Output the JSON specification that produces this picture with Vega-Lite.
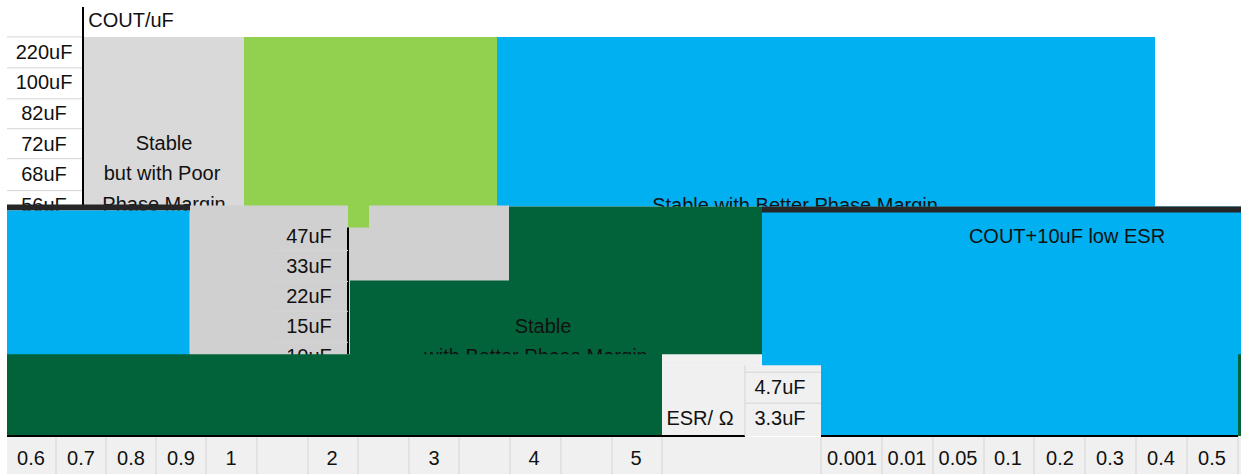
{
  "$schema": "https://vega.github.io/schema/vega-lite/v6.json",
  "width": 1241,
  "height": 475,
  "padding": 0,
  "autosize": {"type": "fit", "contains": "padding"},
  "background": "#ffffff",
  "config": {"view": {"stroke": null}},
  "datasets": {
    "rects": [
      {"b": 1, "k": "poor", "x": 84, "x2": 244, "y": 37, "y2": 207},
      {"b": 1, "k": "lime", "x": 244, "x2": 497, "y": 37, "y2": 207},
      {"b": 1, "k": "blue", "x": 497, "x2": 1155, "y": 37, "y2": 207},
      {"b": 2, "k": "dark", "x": 7, "x2": 190, "y": 205, "y2": 211},
      {"b": 2, "k": "blue", "x": 7, "x2": 190, "y": 211, "y2": 358},
      {"b": 2, "k": "gray", "x": 190, "x2": 509, "y": 206, "y2": 358},
      {"b": 2, "k": "lime", "x": 348, "x2": 369, "y": 205, "y2": 228},
      {"b": 2, "k": "dkgreen", "x": 509, "x2": 762, "y": 207, "y2": 358},
      {"b": 2, "k": "dkgreen", "x": 350, "x2": 509, "y": 281, "y2": 358},
      {"b": 2, "k": "blue", "x": 762, "x2": 1241, "y": 207, "y2": 358},
      {"b": 2, "k": "dark", "x": 762, "x2": 1241, "y": 207, "y2": 213},
      {"b": 3, "k": "dkgreen", "x": 7, "x2": 662, "y": 355, "y2": 437},
      {"b": 3, "k": "blue", "x": 762, "x2": 1238, "y": 355, "y2": 437},
      {"b": 3, "k": "dkgreen", "x": 1238, "x2": 1241, "y": 355, "y2": 437},
      {"b": 3, "k": "cell", "x": 662, "x2": 762, "y": 355, "y2": 366},
      {"b": 3, "k": "cell", "x": 662, "x2": 821, "y": 366, "y2": 437},
      {"b": 3, "k": "cell", "x": 7, "x2": 1241, "y": 438, "y2": 475}
    ],
    "rules": [
      {"b": 1, "k": "line", "x": 83, "x2": 83, "y": 7, "y2": 207},
      {"b": 1, "k": "grid", "x": 7, "x2": 82, "y": 37, "y2": 37},
      {"b": 1, "k": "grid", "x": 7, "x2": 82, "y": 68, "y2": 68},
      {"b": 1, "k": "grid", "x": 7, "x2": 82, "y": 99, "y2": 99},
      {"b": 1, "k": "grid", "x": 7, "x2": 82, "y": 129, "y2": 129},
      {"b": 1, "k": "grid", "x": 7, "x2": 82, "y": 159, "y2": 159},
      {"b": 1, "k": "grid", "x": 7, "x2": 82, "y": 191, "y2": 191},
      {"b": 2, "k": "line", "x": 348, "x2": 348, "y": 228, "y2": 355},
      {"b": 2, "k": "grid", "x": 273, "x2": 348, "y": 251, "y2": 251},
      {"b": 2, "k": "grid", "x": 273, "x2": 348, "y": 282, "y2": 282},
      {"b": 2, "k": "grid", "x": 273, "x2": 348, "y": 312, "y2": 312},
      {"b": 2, "k": "grid", "x": 273, "x2": 348, "y": 343, "y2": 343},
      {"b": 2, "k": "grid", "x": 190, "x2": 190, "y": 212, "y2": 355},
      {"b": 3, "k": "line", "x": 7, "x2": 745, "y": 437, "y2": 437},
      {"b": 3, "k": "line", "x": 821, "x2": 1238, "y": 437, "y2": 437},
      {"b": 3, "k": "grid", "x": 745, "x2": 745, "y": 366, "y2": 437},
      {"b": 3, "k": "grid", "x": 745, "x2": 821, "y": 373, "y2": 373},
      {"b": 3, "k": "grid", "x": 745, "x2": 821, "y": 404, "y2": 404},
      {"b": 3, "k": "grid", "x": 56, "x2": 56, "y": 438, "y2": 475},
      {"b": 3, "k": "grid", "x": 106, "x2": 106, "y": 438, "y2": 475},
      {"b": 3, "k": "grid", "x": 156, "x2": 156, "y": 438, "y2": 475},
      {"b": 3, "k": "grid", "x": 206, "x2": 206, "y": 438, "y2": 475},
      {"b": 3, "k": "grid", "x": 257, "x2": 257, "y": 438, "y2": 475},
      {"b": 3, "k": "grid", "x": 308, "x2": 308, "y": 438, "y2": 475},
      {"b": 3, "k": "grid", "x": 358, "x2": 358, "y": 438, "y2": 475},
      {"b": 3, "k": "grid", "x": 409, "x2": 409, "y": 438, "y2": 475},
      {"b": 3, "k": "grid", "x": 459, "x2": 459, "y": 438, "y2": 475},
      {"b": 3, "k": "grid", "x": 510, "x2": 510, "y": 438, "y2": 475},
      {"b": 3, "k": "grid", "x": 561, "x2": 561, "y": 438, "y2": 475},
      {"b": 3, "k": "grid", "x": 612, "x2": 612, "y": 438, "y2": 475},
      {"b": 3, "k": "grid", "x": 662, "x2": 662, "y": 438, "y2": 475},
      {"b": 3, "k": "grid", "x": 821, "x2": 821, "y": 438, "y2": 475},
      {"b": 3, "k": "grid", "x": 882, "x2": 882, "y": 438, "y2": 475},
      {"b": 3, "k": "grid", "x": 933, "x2": 933, "y": 438, "y2": 475},
      {"b": 3, "k": "grid", "x": 984, "x2": 984, "y": 438, "y2": 475},
      {"b": 3, "k": "grid", "x": 1034, "x2": 1034, "y": 438, "y2": 475},
      {"b": 3, "k": "grid", "x": 1085, "x2": 1085, "y": 438, "y2": 475},
      {"b": 3, "k": "grid", "x": 1136, "x2": 1136, "y": 438, "y2": 475},
      {"b": 3, "k": "grid", "x": 1187, "x2": 1187, "y": 438, "y2": 475},
      {"b": 3, "k": "grid", "x": 1238, "x2": 1238, "y": 438, "y2": 475}
    ],
    "texts": [
      {"b": 1, "t": "COUT/uF", "x": 131, "y": 21},
      {"b": 1, "t": "220uF", "x": 44, "y": 53},
      {"b": 1, "t": "100uF", "x": 44, "y": 83},
      {"b": 1, "t": "82uF", "x": 44, "y": 114},
      {"b": 1, "t": "72uF", "x": 44, "y": 145},
      {"b": 1, "t": "68uF", "x": 44, "y": 175},
      {"b": 1, "t": "56uF", "x": 44, "y": 206},
      {"b": 1, "t": "Stable", "x": 164, "y": 144},
      {"b": 1, "t": "but with Poor", "x": 162, "y": 174},
      {"b": 1, "t": "Phase Margin", "x": 164, "y": 205},
      {"b": 1, "t": "Stable with Better Phase Margin", "x": 795, "y": 206},
      {"b": 2, "t": "47uF", "x": 309, "y": 238},
      {"b": 2, "t": "33uF", "x": 309, "y": 268},
      {"b": 2, "t": "22uF", "x": 309, "y": 298},
      {"b": 2, "t": "15uF", "x": 309, "y": 328},
      {"b": 2, "t": "10uF", "x": 309, "y": 358},
      {"b": 2, "t": "Stable", "x": 543, "y": 328},
      {"b": 2, "t": "with Better Phase Margin", "x": 536, "y": 358},
      {"b": 2, "t": "COUT+10uF low ESR", "x": 1067, "y": 237},
      {"b": 3, "t": "4.7uF", "x": 780, "y": 389},
      {"b": 3, "t": "3.3uF", "x": 780, "y": 420},
      {"b": 3, "t": "ESR/ Ω", "x": 700, "y": 420},
      {"b": 3, "t": "0.6", "x": 31, "y": 460},
      {"b": 3, "t": "0.7", "x": 81, "y": 460},
      {"b": 3, "t": "0.8", "x": 131, "y": 460},
      {"b": 3, "t": "0.9", "x": 181, "y": 460},
      {"b": 3, "t": "1", "x": 231, "y": 460},
      {"b": 3, "t": "2", "x": 332, "y": 460},
      {"b": 3, "t": "3", "x": 434, "y": 460},
      {"b": 3, "t": "4", "x": 534, "y": 460},
      {"b": 3, "t": "5", "x": 636, "y": 460},
      {"b": 3, "t": "0.001", "x": 852, "y": 460},
      {"b": 3, "t": "0.01", "x": 907, "y": 460},
      {"b": 3, "t": "0.05", "x": 958, "y": 460},
      {"b": 3, "t": "0.1", "x": 1008, "y": 460},
      {"b": 3, "t": "0.2", "x": 1060, "y": 460},
      {"b": 3, "t": "0.3", "x": 1110, "y": 460},
      {"b": 3, "t": "0.4", "x": 1161, "y": 460},
      {"b": 3, "t": "0.5", "x": 1212, "y": 460}
    ]
  },
  "encoding": {
    "x": {"field": "x", "type": "quantitative", "scale": {"domain": [0, 1241], "nice": false, "zero": false}, "axis": null},
    "y": {"field": "y", "type": "quantitative", "scale": {"domain": [0, 475], "nice": false, "zero": false, "reverse": true}, "axis": null}
  },
  "layer": [
    {
      "data": {"name": "rects"},
      "transform": [{"filter": "datum.b == 1"}],
      "mark": {"type": "rect"},
      "encoding": {"x2": {"field": "x2"}, "y2": {"field": "y2"},
        "color": {"field": "k", "type": "nominal", "legend": null,
          "scale": {"domain": ["poor", "lime", "blue", "dark", "gray", "dkgreen", "cell", "line", "grid"],
                    "range": ["#d9d9d9", "#92d050", "#00b0f0", "#262626", "#d0d0d0", "#02633a", "#f0f0f0", "#000000", "#d4d4d4"]}}}
    },
    {
      "data": {"name": "rules"},
      "transform": [{"filter": "datum.b == 1"}],
      "mark": {"type": "rule"},
      "encoding": {"x2": {"field": "x2"}, "y2": {"field": "y2"},
        "color": {"field": "k", "type": "nominal", "legend": null},
        "size": {"field": "k", "type": "nominal", "legend": null, "scale": {"domain": ["line", "grid"], "range": [2, 1]}}}
    },
    {
      "data": {"name": "texts"},
      "transform": [{"filter": "datum.b == 1"}],
      "mark": {"type": "text", "font": "Liberation Sans", "fontSize": 20, "color": "#111111", "baseline": "middle", "align": "center"},
      "encoding": {"text": {"field": "t"}}
    },
    {
      "data": {"name": "rects"},
      "transform": [{"filter": "datum.b == 2"}],
      "mark": {"type": "rect"},
      "encoding": {"x2": {"field": "x2"}, "y2": {"field": "y2"},
        "color": {"field": "k", "type": "nominal", "legend": null}}
    },
    {
      "data": {"name": "rules"},
      "transform": [{"filter": "datum.b == 2"}],
      "mark": {"type": "rule"},
      "encoding": {"x2": {"field": "x2"}, "y2": {"field": "y2"},
        "color": {"field": "k", "type": "nominal", "legend": null},
        "size": {"field": "k", "type": "nominal", "legend": null}}
    },
    {
      "data": {"name": "texts"},
      "transform": [{"filter": "datum.b == 2"}],
      "mark": {"type": "text", "font": "Liberation Sans", "fontSize": 20, "color": "#111111", "baseline": "middle", "align": "center"},
      "encoding": {"text": {"field": "t"}}
    },
    {
      "data": {"name": "rects"},
      "transform": [{"filter": "datum.b == 3"}],
      "mark": {"type": "rect"},
      "encoding": {"x2": {"field": "x2"}, "y2": {"field": "y2"},
        "color": {"field": "k", "type": "nominal", "legend": null}}
    },
    {
      "data": {"name": "rules"},
      "transform": [{"filter": "datum.b == 3"}],
      "mark": {"type": "rule"},
      "encoding": {"x2": {"field": "x2"}, "y2": {"field": "y2"},
        "color": {"field": "k", "type": "nominal", "legend": null},
        "size": {"field": "k", "type": "nominal", "legend": null}}
    },
    {
      "data": {"name": "texts"},
      "transform": [{"filter": "datum.b == 3"}],
      "mark": {"type": "text", "font": "Liberation Sans", "fontSize": 20, "color": "#111111", "baseline": "middle", "align": "center"},
      "encoding": {"text": {"field": "t"}}
    }
  ]
}
